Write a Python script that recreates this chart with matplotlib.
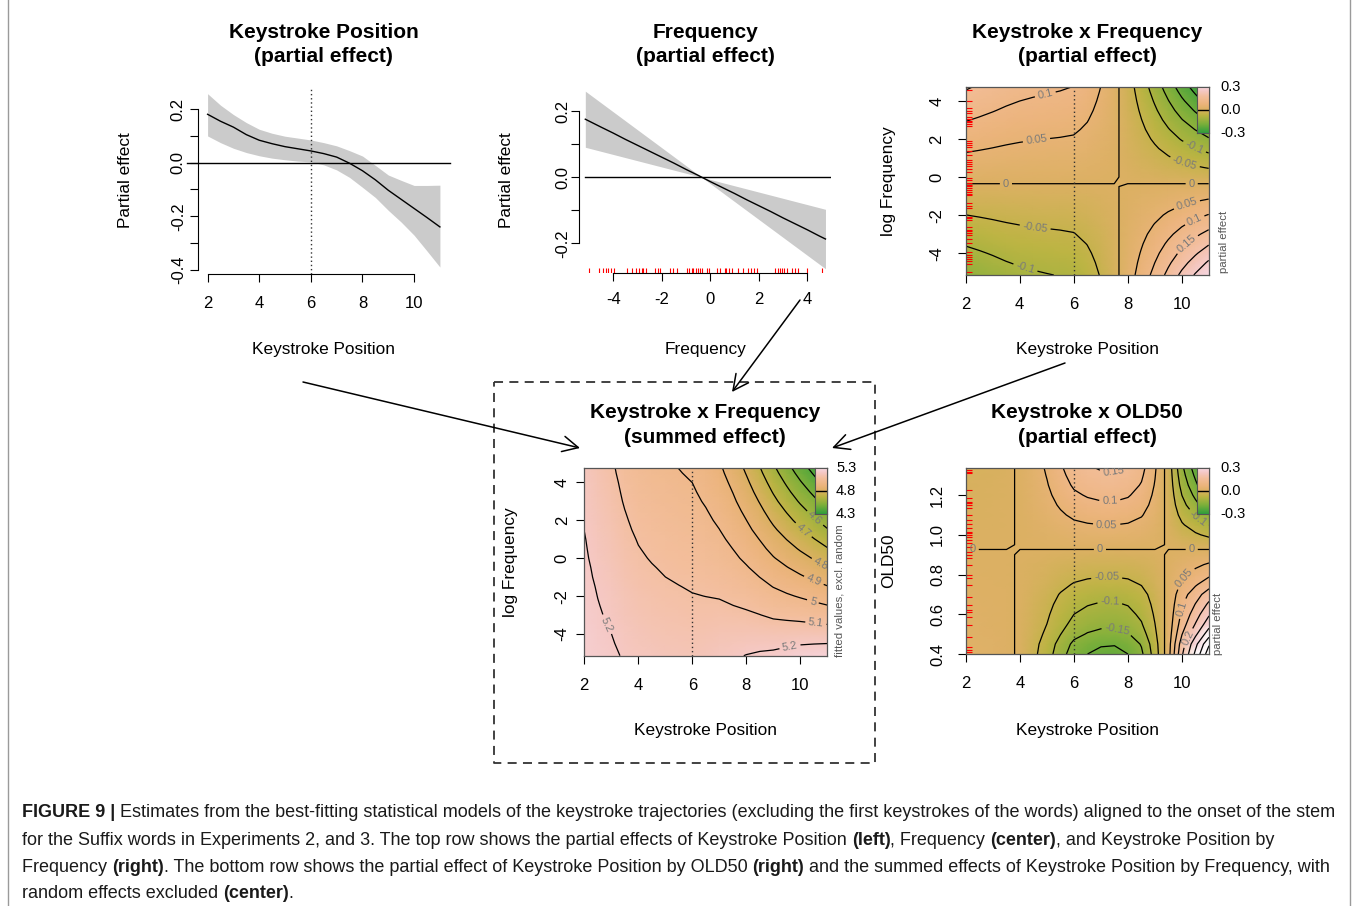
import numpy as np
import matplotlib
matplotlib.use("Agg")
import matplotlib.pyplot as plt
from matplotlib.colors import LinearSegmentedColormap, Normalize

plt.rcParams['font.family'] = ['Liberation Sans', 'DejaVu Sans']
plt.rcParams['contour.negative_linestyle'] = 'solid'

# ---------------- values ----------------
# Keystroke Position partial effect (top left)
kp_x = [2, 2.5, 3, 3.5, 4, 4.5, 5, 5.5, 6, 6.5, 7, 7.5, 8, 8.5, 9, 9.5, 10, 10.5, 11]
kp_fit = [0.181, 0.155, 0.133, 0.105, 0.084, 0.071, 0.060, 0.052, 0.044, 0.034,
          0.021, -0.002, -0.030, -0.064, -0.103, -0.137, -0.171, -0.205, -0.240]
kp_hi = [0.258, 0.215, 0.180, 0.150, 0.125, 0.110, 0.099, 0.092, 0.085, 0.075,
         0.063, 0.045, 0.025, -0.010, -0.046, -0.066, -0.085, -0.085, -0.084]
kp_lo = [0.100, 0.075, 0.054, 0.038, 0.026, 0.017, 0.011, 0.006, 0.003, -0.008,
         -0.027, -0.055, -0.092, -0.130, -0.178, -0.222, -0.271, -0.330, -0.390]

# Frequency partial effect (top middle)
freq_y = [-5.15, -4.5, -4, -3.5, -3, -2.5, -2, -1.5, -1, -0.5, 0, 0.5, 1, 1.5,
          2, 2.5, 3, 3.5, 4, 4.5, 4.75]
freq_fit = [0.176, 0.152, 0.134, 0.115, 0.097, 0.079, 0.061, 0.043, 0.024, 0.006,
            -0.013, -0.031, -0.049, -0.068, -0.086, -0.104, -0.123, -0.141,
            -0.159, -0.178, -0.187]
freq_band_x = [-5.15, -0.35, 4.75]
freq_band_hi = [0.261, 0.0, -0.097]
freq_band_lo = [0.091, 0.0, -0.277]
freq_rug = [-5.0, -4.58, -4.41, -4.30, -4.21, -4.10, -3.96, -3.45, -3.24, -3.04,
            -2.93, -2.83, -2.76, -2.63, -2.28, -2.14, -2.08, -1.64, -1.53, -1.39,
            -0.95, -0.87, -0.77, -0.70, -0.59, -0.49, -0.43, -0.32, -0.15, -0.04,
            0.26, 0.40, 0.60, 0.67, 0.78, 0.88, 1.15, 1.36, 1.57, 1.66, 1.80,
            1.91, 2.67, 2.80, 2.87, 2.94, 3.04, 3.15, 3.35, 3.49, 3.63, 4.00, 4.59]

# Keystroke x Frequency interaction: profile along keystroke and along frequency
inter_kp = [0.0305, 0.0285, 0.0265, 0.0245, 0.023, 0.022, 0.0212, 0.0205, 0.0195,
            0.0155, 0.0098, 0.003, -0.0055, -0.0145, -0.024, -0.034, -0.044,
            -0.053, -0.062]
inter_freq = [-4.8, -4.15, -3.65, -3.15, -2.65, -2.15, -1.65, -1.15, -0.65, -0.15,
              0.35, 0.85, 1.35, 1.85, 2.35, 2.85, 3.35, 3.85, 4.35, 4.85, 5.1]
intercept = 5.03

# Keystroke x OLD50 interaction
old_y = [0.40, 0.45, 0.50, 0.55, 0.60, 0.65, 0.70, 0.75, 0.80, 0.85, 0.90, 0.95,
         1.00, 1.05, 1.10, 1.15, 1.20, 1.25, 1.30, 1.335]
old_prof = [-0.215, -0.197, -0.165, -0.140, -0.122, -0.105, -0.088, -0.065,
            -0.045, -0.028, -0.010, 0.009, 0.030, 0.050, 0.072, 0.093, 0.112,
            0.130, 0.145, 0.155]
old_kp = [-0.08, -0.07, -0.05, -0.03, 0.02, 0.18, 0.36, 0.60, 0.82, 0.93, 0.99,
          1.00, 0.93, 0.74, 0.36, -0.15, -0.90, -1.45, -2.00]
old_rug = [1.326, 1.317, 1.309, 1.225, 1.183, 1.166, 1.158, 1.150, 1.133, 1.099,
           1.074, 1.057, 1.032, 1.015, 1.007, 0.999, 0.987, 0.974, 0.957, 0.940,
           0.915, 0.898, 0.881, 0.848, 0.797, 0.781, 0.747, 0.688, 0.647, 0.621,
           0.613, 0.588, 0.546, 0.487, 0.437, 0.420, 0.412]

cbar_partial = ['0.3', '0.0', '-0.3']
cbar_summed = ['5.3', '4.8', '4.3']

# surfaces
inter = np.outer(inter_freq, inter_kp)
summed = intercept + np.add.outer(freq_fit, kp_fit) + inter
old_eff = np.outer(old_prof, old_kp)

# ---------------- figure ----------------
W, H = 1358, 906
fig = plt.figure(figsize=(W / 100, H / 100), dpi=100)


def px_axes(x0, y0, x1, y1):
    return fig.add_axes([x0 / W, 1 - y1 / H, (x1 - x0) / W, (y1 - y0) / H])


def ftext(x, y, s, **kw):
    return fig.text(x / W, 1 - y / H, s, **kw)


cmap = LinearSegmentedColormap.from_list('terr', [
    (0.0, '#2f9e3c'), (0.2, '#7fb03a'), (0.38, '#bdb443'), (0.5, '#dcb063'),
    (0.62, '#ecb47c'), (0.78, '#f3be9c'), (0.9, '#f5c8c4'), (1.0, '#f6d8e2')])
cmap.set_over('white')
cmap.set_under('#2f9e3c')

fmt = lambda v: f'{v:g}'


def line_style(ax, xt, yt, ylabs, xb, yb, ypad, xpad):
    for s in ['top', 'right']:
        ax.spines[s].set_visible(False)
    ax.spines['left'].set_bounds(*yb)
    ax.spines['bottom'].set_bounds(*xb)
    ax.set_xticks(xt, [fmt(v) for v in xt])
    ax.set_yticks(yt, ylabs)
    ax.tick_params(direction='out', length=6, width=0.8, labelsize=12)
    ax.tick_params(axis='y', labelrotation=90, pad=ypad)
    ax.tick_params(axis='x', pad=xpad)
    for lab in ax.get_yticklabels():
        lab.set_va('center')


def heat(ax, z, xs, ys, norm, levels, lab_pos, ylim, yt, ylabs, ypad):
    ax.pcolormesh(xs, ys, z, cmap=cmap, norm=norm, shading='gouraud')
    cs = ax.contour(xs, ys, z, levels=levels, colors='k', linewidths=0.9)
    ax.clabel(cs, fmt=fmt, manual=lab_pos, inline=True, fontsize=8,
              colors='#7a7a7a', inline_spacing=3)
    ax.axvline(6, color='#333333', ls=(0, (1, 2)), lw=1)
    ax.set_xlim(2, 11)
    ax.set_ylim(*ylim)
    ax.set_xticks([2, 4, 6, 8, 10], ['2', '4', '6', '8', '10'])
    ax.set_yticks(yt, ylabs)
    ax.tick_params(direction='out', length=6, width=0.8, labelsize=12)
    ax.tick_params(axis='x', pad=10)
    ax.tick_params(axis='y', labelrotation=90, pad=ypad)
    for lab in ax.get_yticklabels():
        lab.set_va('center')
    for s in ax.spines.values():
        s.set_color('#555555')
        s.set_linewidth(0.9)


def inner_bar(x0, y0, x1, y1, labels, lx):
    cax = px_axes(x0, y0, x1, y1)
    cax.imshow(np.linspace(0, 1, 200)[:, None], aspect='auto', cmap=cmap,
               origin='lower', extent=(0, 1, 0, 1))
    cax.axhline(0.5, color='k', lw=1)
    cax.set_xticks([])
    cax.set_yticks([])
    for s in cax.spines.values():
        s.set_color('#555555')
        s.set_linewidth(0.8)
    for lab, yy in zip(labels, [y0, (y0 + y1) / 2, y1]):
        ftext(lx, yy, lab, fontsize=10.5, va='center', ha='left')


# --- top left: keystroke position ---
ax1 = px_axes(198.3, 87, 449.2, 274)
ax1.fill_between(kp_x, kp_lo, kp_hi, color='#cbcbcb', lw=0)
ax1.plot(kp_x, kp_fit, color='k', lw=1)
ax1.plot([1.21, 11.39], [0, 0], color='k', lw=1, clip_on=False)
ax1.axvline(6, color='#333333', ls=(0, (1, 2)), lw=1)
ax1.set_xlim(1.64, 11.36)
ax1.set_ylim(-0.416, 0.283)
line_style(ax1, [2, 4, 6, 8, 10], [-0.4, -0.3, -0.2, -0.1, 0.0, 0.1, 0.2],
           ['-0.4', '', '-0.2', '', '0.0', '', '0.2'], (2, 10), (-0.4, 0.2), 3, 9.5)

# --- top middle: frequency ---
ax2 = px_axes(579, 87.2, 830.8, 273)
ax2.fill_between(freq_band_x, freq_band_lo, freq_band_hi, color='#cbcbcb', lw=0)
ax2.plot(freq_y, freq_fit, color='k', lw=1)
ax2.plot([freq_band_x[0], 4.97], [0, 0], color='k', lw=1)
ax2.vlines(freq_rug, 0.0, 0.025, color='red', lw=0.8,
           transform=ax2.get_xaxis_transform())
ax2.set_xlim(-5.41, 4.97)
ax2.set_ylim(-0.29, 0.273)
line_style(ax2, [-4, -2, 0, 2, 4], [-0.2, -0.1, 0.0, 0.1, 0.2],
           ['-0.2', '', '0.0', '', '0.2'], (-4, 4), (-0.2, 0.2), 0.5, 8)

norm_p = Normalize(-0.3, 0.3)
norm_s = Normalize(4.3, 5.3)
lev_p = np.round(np.arange(-12, 13) * 0.05, 2)
lev_s = np.round(np.arange(43, 54) * 0.1, 1)

# --- top right: keystroke x frequency (partial) ---
ax3 = px_axes(965.7, 86.7, 1208.7, 275)
heat(ax3, inter, kp_x, freq_y, norm_p, lev_p,
     [(4.94, 4.39), (4.63, 1.84), (3.49, -0.38), (10.37, -0.38), (4.57, -2.66),
      (4.2, -4.82), (10.49, 1.62), (10.12, 0.79), (10.18, -1.4), (10.49, -2.3),
      (10.3, -3.68)],
     (-5.15, 4.75), [-4, -2, 0, 2, 4], ['-4', '-2', '0', '2', '4'], 9.5)
ax3.hlines(freq_rug, 0.0, 0.025, color='red', lw=0.8,
           transform=ax3.get_yaxis_transform())
inner_bar(1196.7, 86.7, 1208.7, 133, cbar_partial, 1220)
ftext(1224, 273, 'partial effect', fontsize=8.2, color='#555555', rotation=90,
      ha='center', va='bottom')

# --- bottom centre: summed effect ---
ax4 = px_axes(584.3, 468.3, 827.3, 655.7)
heat(ax4, summed, kp_x, freq_y, norm_s, lev_s,
     [(10.43, 1.93), (10.12, 1.49), (10.68, -0.53), (10.43, -1.41), (10.43, -2.46),
      (10.56, -3.68), (2.46, -3.77), (9.63, -4.79)],
     (-5.15, 4.75), [-4, -2, 0, 2, 4], ['-4', '-2', '0', '2', '4'], 4.5)
inner_bar(815.3, 468.3, 827.3, 514, cbar_summed, 836)
ftext(839, 657, 'fitted values, excl. random', fontsize=8.2, color='#555555',
      rotation=90, ha='center', va='bottom')

# --- bottom right: keystroke x OLD50 ---
ax5 = px_axes(966, 468.3, 1209, 654)
heat(ax5, old_eff, kp_x, old_y, norm_p, lev_p,
     [(7.46, 1.317), (7.33, 1.175), (7.21, 1.054), (2.25, 0.927), (6.96, 0.927),
      (10.36, 0.927), (7.21, 0.789), (7.33, 0.663), (7.58, 0.52), (10.11, 0.78),
      (9.98, 0.63), (10.23, 0.48), (10.6, 1.083)],
     (0.4, 1.335), [0.4, 0.6, 0.8, 1.0, 1.2], ['0.4', '0.6', '0.8', '1.0', '1.2'], 9)
ax5.hlines(old_rug, 0.0, 0.025, color='red', lw=0.8,
           transform=ax5.get_yaxis_transform())
inner_bar(1197, 468.3, 1209, 514, cbar_partial, 1220)
ftext(1218, 655, 'partial effect', fontsize=8.2, color='#555555', rotation=90,
      ha='center', va='bottom')

# --- titles and axis labels ---
for cx, ty, l1, l2 in [(323.5, 32.5, 'Keystroke Position', '(partial effect)'),
                       (705, 32.5, 'Frequency', '(partial effect)'),
                       (1087, 32.5, 'Keystroke x Frequency', '(partial effect)'),
                       (705, 413, 'Keystroke x Frequency', '(summed effect)'),
                       (1087, 413, 'Keystroke x OLD50', '(partial effect)')]:
    ftext(cx, ty, l1, fontsize=15, fontweight='bold', ha='center', va='center')
    ftext(cx, ty + 24.5, l2, fontsize=15, fontweight='bold', ha='center', va='center')

for cx, cy, s in [(323.5, 349, 'Keystroke Position'), (705, 349, 'Frequency'),
                  (1087, 349, 'Keystroke Position'), (705, 730.5, 'Keystroke Position'),
                  (1087, 730.5, 'Keystroke Position')]:
    ftext(cx, cy, s, fontsize=12.4, ha='center', va='center')

for cx, cy, s in [(125.5, 180.5, 'Partial effect'), (506.5, 180, 'Partial effect'),
                  (888, 181, 'log Frequency'), (510, 562, 'log Frequency'),
                  (888.5, 561, 'OLD50')]:
    ftext(cx, cy, s, fontsize=12.4, ha='center', va='center', rotation=90)

# --- arrows, dashed frame, caption (pixel overlay) ---
ov = fig.add_axes([0, 0, 1, 1], zorder=-1)
ov.set_xlim(0, W)
ov.set_ylim(H, 0)
ov.axis('off')
for (xa, ya), (xb, yb) in [((303, 382), (580, 448)), ((800, 300), (732, 392)),
                           ((1065, 363), (832, 448))]:
    ov.annotate('', xy=(xb, yb), xytext=(xa, ya),
                arrowprops=dict(arrowstyle='->,head_length=0.7,head_width=0.35',
                                lw=1.1, color='k', shrinkA=0, shrinkB=0,
                                mutation_scale=16))
ov.plot([494, 875, 875, 494, 494], [382, 382, 763, 763, 382], color='#333333',
        lw=1.3, ls=(0, (5, 3.5)))
ov.plot([8, 8], [0, H], color='#9a9a9a', lw=1)
ov.plot([1350, 1350], [0, H], color='#9a9a9a', lw=1)

cap_lines = [
    [('FIGURE 9 |', 'bold'), (' Estimates from the best-fitting statistical models of the '
     'keystroke trajectories (excluding the first keystrokes of the words) aligned to '
     'the onset of the stem', 'normal')],
    [('for the Suffix words in Experiments 2, and 3. The top row shows the partial effects '
      'of Keystroke Position ', 'normal'), ('(left)', 'bold'), (', Frequency ', 'normal'),
     ('(center)', 'bold'), (', and Keystroke Position by', 'normal')],
    [('Frequency ', 'normal'), ('(right)', 'bold'),
     ('. The bottom row shows the partial effect of Keystroke Position by OLD50 ', 'normal'),
     ('(right)', 'bold'),
     (' and the summed effects of Keystroke Position by Frequency, with', 'normal')],
    [('random effects excluded ', 'normal'), ('(center)', 'bold'), ('.', 'normal')],
]

renderer = fig.canvas.get_renderer()


def run_width(s, size, weight):
    a = fig.text(0, 0, 'X' + s + 'X', fontsize=size, fontweight=weight)
    b = fig.text(0, 0, 'XX', fontsize=size, fontweight=weight)
    w = a.get_window_extent(renderer).width - b.get_window_extent(renderer).width
    a.remove()
    b.remove()
    return w


base = 12.0
w1 = sum(run_width(s, base, wt) for s, wt in cap_lines[0])
cap_size = base * 1315 / w1
for i, runs in enumerate(cap_lines):
    x = 22
    y = [812, 840, 866.7, 893][i] + 5
    for s, wt in runs:
        ftext(x, y, s, fontsize=cap_size, fontweight=wt, va='baseline', ha='left',
              color='#1a1a1a')
        x += run_width(s, cap_size, wt)

fig.savefig('out.png', dpi=100)
